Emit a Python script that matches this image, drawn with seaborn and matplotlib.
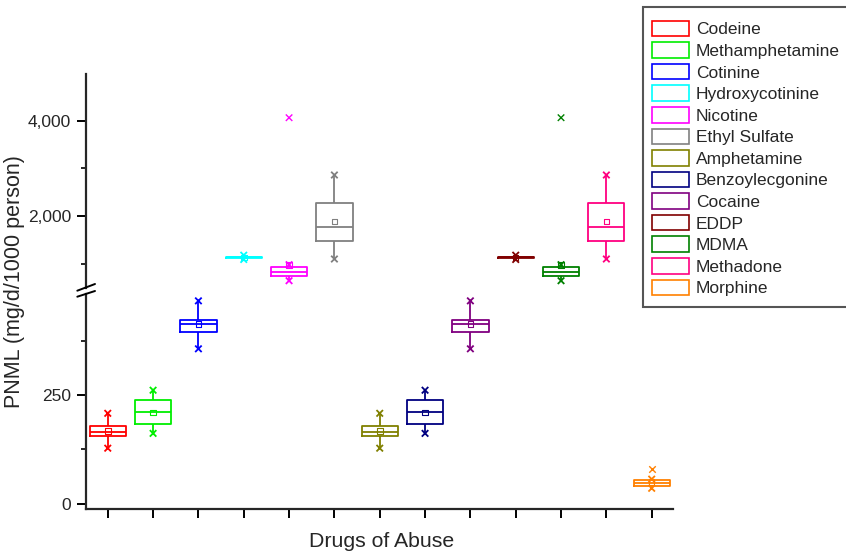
import matplotlib
matplotlib.use("Agg")
import matplotlib.pyplot as plt
from matplotlib.patches import Patch, Rectangle
from matplotlib.lines import Line2D
import numpy as np
import pandas as pd
import seaborn as sns

# ---------------- data ----------------
drugs = ["Codeine", "Methamphetamine", "Cotinine", "Hydroxycotinine", "Nicotine",
         "Ethyl Sulfate", "Amphetamine", "Benzoylecgonine", "Cocaine", "EDDP",
         "MDMA", "Methadone", "Morphine"]
colors = ["#FF0000", "#00EE00", "#0000FF", "#00FFFF", "#FF00FF", "#808080",
          "#808000", "#000080", "#800080", "#800000", "#008000", "#FF0080", "#FF8000"]

low = [128, 162, 356, 1085, 638, 1095, 128, 162, 356, 1085, 638, 1095, 36]
q1 = [157, 183, 394, 1120, 737, 1480, 157, 183, 394, 1120, 737, 1480, 41]
median = [166, 211, 412, 1130, 827, 1775, 166, 211, 412, 1130, 827, 1775, 48]
q3 = [180, 238, 423, 1140, 933, 2267, 180, 238, 423, 1140, 933, 2267, 55]
high = [208, 261, 466, 1175, 975, 2863, 208, 261, 466, 1175, 975, 2863, 57]
means = [168, 210, 413, 1130, 968, 1880, 168, 210, 413, 1130, 968, 1880, 50]
outlier_drugs = ["Nicotine", "MDMA", "Morphine"]
outlier_vals = [4069, 4069, 80]

lower_ticks = [0, 250]
lower_minor = [125, 375]
upper_ticks = [2000, 4000]
upper_tick_labels = ["2,000", "4,000"]
upper_minor = [1000, 3000]

# ---------------- style ----------------
sns.set_style("ticks")
plt.rcParams["font.family"] = ["Liberation Sans", "DejaVu Sans"]

W, H = 846, 553
fig = plt.figure(figsize=(W / 100, H / 100), dpi=100)

def fx(px):
    return px / W

def fy(py):
    return 1 - py / H

left, right = 86, 673
lo_bottom, lo_top = 509, 294
hi_bottom, hi_top = 287.5, 74
lo_lim = (-11.5, 481.7)
hi_lim = (495, 4989)

ax_lo = fig.add_axes([fx(left), fy(lo_bottom), fx(right) - fx(left), fy(lo_top) - fy(lo_bottom)])
ax_hi = fig.add_axes([fx(left), fy(hi_bottom), fx(right) - fx(left), fy(hi_top) - fy(hi_bottom)],
                     sharex=ax_lo)
for a in (ax_lo, ax_hi):
    a.patch.set_alpha(0)

# long-form data for seaborn: five-number summary per drug
rows = []
for i, d in enumerate(drugs):
    for v in (low[i], q1[i], median[i], q3[i], high[i]):
        rows.append({"drug": d, "value": v})
box_df = pd.DataFrame(rows)
pal = dict(zip(drugs, colors))
pos = {d: i for i, d in enumerate(drugs)}


def in_range(xs, ys, cs, lim):
    keep = [(x, y, c) for x, y, c in zip(xs, ys, cs) if lim[0] <= y <= lim[1]]
    if not keep:
        return [], [], []
    a, b, c = zip(*keep)
    return list(a), list(b), list(c)


for ax, lim in ((ax_lo, lo_lim), (ax_hi, hi_lim)):
    sns.boxplot(data=box_df, x="drug", y="value", hue="drug", order=drugs,
                hue_order=drugs, palette=pal, fill=False, width=0.8,
                whis=(0, 100), showfliers=False, showcaps=False,
                linewidth=1.3, legend=False, ax=ax)
    xs = [pos[d] for d in drugs]
    # whisker end markers
    for vals in (low, high):
        px, py, pc = in_range(xs, vals, colors, lim)
        if px:
            ax.scatter(px, py, marker="x", s=22, c=pc, linewidths=1.3, zorder=5)
    # outliers
    px, py, pc = in_range([pos[d] for d in outlier_drugs], outlier_vals,
                          [pal[d] for d in outlier_drugs], lim)
    if px:
        ax.scatter(px, py, marker="x", s=22, c=pc, linewidths=1.0, zorder=5)
    # means
    px, py, pc = in_range(xs, means, colors, lim)
    if px:
        ax.scatter(px, py, marker="s", s=16, facecolors="none",
                   edgecolors=pc, linewidths=0.8, zorder=6)
    ax.set_xlabel("")
    ax.set_ylabel("")
    ax.set_xlim(-0.48, 12.47)
    for sp in ("top", "right"):
        ax.spines[sp].set_visible(False)
    ax.spines["left"].set_linewidth(1.6)
    ax.spines["bottom"].set_linewidth(1.6)
    ax.tick_params(axis="both", which="major", length=6.5, width=1.4,
                   labelsize=12.5, direction="out", pad=4.3, color="black")
    ax.tick_params(axis="y", which="minor", length=3.6, width=1.4, direction="out")

# lower panel
ax_lo.set_ylim(*lo_lim)
ax_lo.set_yticks(lower_ticks)
ax_lo.set_yticklabels([str(t) for t in lower_ticks])
ax_lo.set_yticks(lower_minor, minor=True)
ax_lo.set_xticks(range(len(drugs)))
ax_lo.set_xticklabels([""] * len(drugs))

# upper panel
ax_hi.set_ylim(*hi_lim)
ax_hi.set_yticks(upper_ticks)
ax_hi.set_yticklabels(upper_tick_labels)
ax_hi.set_yticks(upper_minor, minor=True)
ax_hi.spines["bottom"].set_visible(False)
ax_hi.tick_params(axis="x", which="both", bottom=False, labelbottom=False)

# axis break marks
for (x0, y0, x1, y1) in [(77.3, 290.7, 95, 284), (77.3, 296.7, 95, 291)]:
    fig.add_artist(Line2D([fx(x0), fx(x1)], [fy(y0), fy(y1)], color="black", lw=1.4))

# labels
fig.text(fx(15), fy(282), "PNML (mg/d/1000 person)", rotation=90, ha="center",
         va="center", fontsize=15.5)
fig.text(fx(382), fy(546.7), "Drugs of Abuse", ha="center", va="baseline", fontsize=15.3)

# legend frame (drawn separately so that it can run past the right edge)
fig.add_artist(Rectangle((fx(643), fy(307)), fx(860) - fx(643), fy(7) - fy(307),
                         transform=fig.transFigure, facecolor="white",
                         edgecolor="#555555", linewidth=1.5, zorder=1))

# legend
handles = [Patch(facecolor="white", edgecolor=c, linewidth=1.2) for c in colors]
leg = fig.legend(handles, drugs, loc="upper left", bbox_to_anchor=(fx(643), fy(12)),
                 fontsize=12.5, handlelength=2.14, handleheight=1.0,
                 handletextpad=0.4, labelspacing=0.28, borderpad=0.5,
                 borderaxespad=0, frameon=False)
leg.set_zorder(2)

fig.savefig("out.png", dpi=100)
